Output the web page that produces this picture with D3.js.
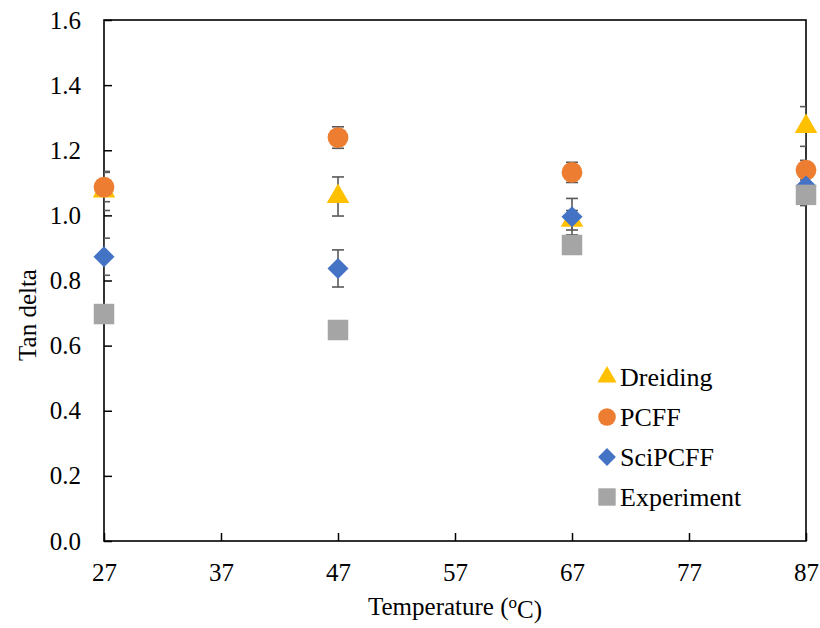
<!DOCTYPE html>
<html>
<head>
<meta charset="utf-8">
<script src="https://cdn.jsdelivr.net/npm/d3@7"></script>
<style>
    body { margin: 0; background: #fff; }
    text { font-family: "Liberation Serif", "Times New Roman", serif; fill: #000; }
</style>
</head>
<body>
<div id="chart"></div>
<script>
"use strict"
// Values
var temps = [27, 47, 67, 87]
var xTicks = [27, 37, 47, 57, 67, 77, 87]
var yTicks = [0, 0.2, 0.4, 0.6, 0.8, 1.0, 1.2, 1.4, 1.6]

var dreiding = [1.075, 1.058, 0.985, 1.273]
var dreidingErr = [0.06, 0.06, 0.03, 0.061]
var pcff = [1.087, 1.239, 1.132, 1.139]
var pcffErr = [0.045, 0.033, 0.031, 0.03]
var sciPcff = [0.873, 0.837, 0.996, 1.09]
var sciPcffErr = [0.057, 0.057, 0.056, 0.06]
var experiment = [0.697, 0.648, 0.909, 1.063]
var experimentErr = [0, 0, 0, 0]

var seriesNames = ["Dreiding", "PCFF", "SciPCFF", "Experiment"]
var seriesColors = ["#FFC000", "#ED7D31", "#4472C4", "#A5A5A5"]

// Excel style diamond: a square turned 45 degrees
var diamond = {
    draw: function (context, size) {
        var r = Math.sqrt(size / 2)
        context.moveTo(0, -r)
        context.lineTo(r, 0)
        context.lineTo(0, r)
        context.lineTo(-r, 0)
        context.closePath()
    }
}
var seriesShapes = [d3.symbolTriangle, d3.symbolCircle, diamond, d3.symbolSquare]
var seriesSizes = [220, 340, 220, 420]

var series = [
    { vals: dreiding, err: dreidingErr },
    { vals: pcff, err: pcffErr },
    { vals: sciPcff, err: sciPcffErr },
    { vals: experiment, err: experimentErr }
]

var width = 820
var height = 628
var margin = { top: 20, right: 14, bottom: 87, left: 104 }
var drawWidth = width - margin.left - margin.right
var drawHeight = height - margin.top - margin.bottom
var serif = "'Liberation Serif', 'Times New Roman', serif"

var xScale = d3.scaleLinear().domain([27, 87]).range([0, drawWidth])
var yScale = d3.scaleLinear().domain([0, 1.6]).range([drawHeight, 0])

var svg = d3.select("#chart").append("svg")
    .attr("width", width)
    .attr("height", height)

svg.append("defs").append("clipPath").attr("id", "plotClip")
    .append("rect").attr("width", drawWidth).attr("height", drawHeight)

var g = svg.append("g")
    .attr("transform", "translate(" + margin.left + "," + margin.top + ")")

// Axes, ticks point inward
var xAxis = d3.axisBottom(xScale).tickValues(xTicks).tickSize(-8).tickPadding(22).tickFormat(d3.format("d"))
var yAxis = d3.axisLeft(yScale).tickValues(yTicks).tickSize(-8).tickPadding(23).tickFormat(d3.format(".1f"))

g.append("g").attr("class", "x axis")
    .attr("transform", "translate(0," + drawHeight + ")")
    .call(xAxis)
g.append("g").attr("class", "y axis")
    .call(yAxis)

g.selectAll(".axis").attr("font-family", serif).attr("font-size", 25)
g.selectAll(".axis .domain").remove()
g.selectAll(".axis line").attr("stroke", "#000").attr("stroke-width", 1.5)
g.selectAll(".axis text").style("font-family", serif).style("font-size", "25px").attr("fill", "#000")
g.selectAll(".x.axis text").attr("dy", "0.71em")

// Frame around the plot
g.append("rect")
    .attr("width", drawWidth)
    .attr("height", drawHeight)
    .attr("fill", "none")
    .attr("stroke", "#000")
    .attr("stroke-width", 1.6)

// Error bars first, clipped to the plot area
var errG = g.append("g").attr("clip-path", "url(#plotClip)")
series.forEach(function (s) {
    s.vals.forEach(function (v, i) {
        if (!s.err[i]) return
        var x = xScale(temps[i])
        var y0 = yScale(v - s.err[i])
        var y1 = yScale(v + s.err[i])
        errG.append("line").attr("x1", x).attr("x2", x).attr("y1", y0).attr("y2", y1)
            .attr("stroke", "#595959").attr("stroke-width", 1.6)
        errG.append("line").attr("x1", x - 6).attr("x2", x + 6).attr("y1", y0).attr("y2", y0)
            .attr("stroke", "#595959").attr("stroke-width", 1.6)
        errG.append("line").attr("x1", x - 6).attr("x2", x + 6).attr("y1", y1).attr("y2", y1)
            .attr("stroke", "#595959").attr("stroke-width", 1.6)
    })
})

// Markers
series.forEach(function (s, k) {
    var sym = d3.symbol().type(seriesShapes[k]).size(seriesSizes[k])
    g.selectAll(".pt" + k).data(s.vals).enter().append("path")
        .attr("class", "pt" + k)
        .attr("transform", function (d, i) {
            return "translate(" + xScale(temps[i]) + "," + yScale(d) + ")"
        })
        .attr("d", sym)
        .attr("fill", seriesColors[k])
})

// Legend
var legend = svg.append("g").attr("transform", "translate(607,377)")
seriesNames.forEach(function (name, k) {
    var row = legend.append("g").attr("transform", "translate(0," + (k * 40) + ")")
    row.append("path")
        .attr("d", d3.symbol().type(seriesShapes[k]).size(seriesSizes[k] * 0.72))
        .attr("fill", seriesColors[k])
    row.append("text")
        .attr("x", 13)
        .attr("y", 9)
        .style("font-size", "26px")
        .text(name)
})

// Axis titles
var xTitle = svg.append("text")
    .attr("x", margin.left + drawWidth / 2)
    .attr("y", 615)
    .attr("text-anchor", "middle")
    .style("font-size", "25px")
xTitle.append("tspan").text("Temperature (")
xTitle.append("tspan").attr("dy", "-0.4em").style("font-size", "17px").text("o")
xTitle.append("tspan").attr("dy", "0.4em").text("C)")

svg.append("text")
    .attr("transform", "translate(36,315) rotate(-90)")
    .attr("text-anchor", "middle")
    .style("font-size", "25px")
    .text("Tan delta")
</script>
</body>
</html>
